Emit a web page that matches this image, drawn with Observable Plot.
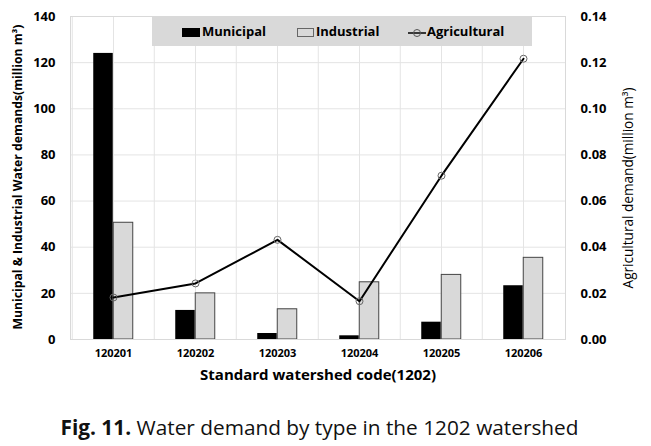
<!DOCTYPE html>
<html>
<head>
<meta charset="utf-8">
<script src="https://cdn.jsdelivr.net/npm/d3@7"></script>
<script src="https://cdn.jsdelivr.net/npm/@observablehq/plot@0.6"></script>
<style>
  body { margin: 0; background: #fff; font-family: "Open Sans", "Noto Sans", sans-serif; }
  #wrap { position: relative; width: 651px; height: 446px; overflow: hidden; }
  #legend { position: absolute; left: 152px; top: 16px; width: 380px; height: 30px; background: #d9d9d9;
            font-weight: bold; font-size: 13px; color: #000; }
  .li { position: absolute; top: 0; height: 30px; line-height: 30px; white-space: nowrap; }
  .sw { display: inline-block; vertical-align: middle; box-sizing: border-box; }
  #caption { position: absolute; left: -6px; width: 651px; top: 415px; text-align: center; font-size: 20.8px;
             line-height: 24px; color: #111; white-space: nowrap;
             font-family: "Open Sans", "Noto Sans", sans-serif; }
</style>
</head>
<body>
<div id="wrap">
  <div id="chart"></div>
  <div id="legend"></div>
  <div id="caption"><b>Fig. 11.</b> Water demand by type in the 1202 watershed</div>
</div>
<script>
const codes = ["120201", "120202", "120203", "120204", "120205", "120206"];
const municipal = [124, 12.6, 2.6, 1.6, 7.5, 23.3];
const industrial = [50.6, 20, 13.1, 24.8, 28.0, 35.4];
const agricultural = [0.0182, 0.0243, 0.0432, 0.0166, 0.0710, 0.1217];
const leftTicks = [0, 20, 40, 60, 80, 100, 120, 140];
const rightTicks = [0, 0.02, 0.04, 0.06, 0.08, 0.10, 0.12, 0.14];
const seriesNames = ["Municipal", "Industrial", "Agricultural"];
const leftTitle = "Municipal & Industrial Water demands(million m³)";
const rightTitle = "Agricultural demand(million m³)";
const xTitle = "Standard watershed code(1202)";

// right axis ratio: 0.14 ↔ 140
const ratio = leftTicks[leftTicks.length - 1] / rightTicks[rightTicks.length - 1];
const rows = codes.map((c, i) => ({code: c, muni: municipal[i], ind: industrial[i], agri: agricultural[i] * ratio}));

const W = 651, H = 400;
const mL = 70, mR = 86, mT = 16, mB = 61;
const band = (W - mL - mR) / codes.length;
const barW = 20;

const font = "'Open Sans', 'Noto Sans', sans-serif";

const chart = Plot.plot({
  width: W, height: H,
  marginLeft: mL, marginRight: mR, marginTop: mT, marginBottom: mB,
  style: {fontFamily: font, background: "#fff", color: "#000", overflow: "visible"},
  x: {type: "band", domain: codes, padding: 0},
  y: {domain: [0, 140]},
  marks: [
    Plot.gridY(leftTicks, {stroke: "#e4e4e4", strokeOpacity: 1}),
    Plot.ruleX(codes, {x: d => d, stroke: "#e4e4e4"}),
    Plot.ruleX(codes, {x: d => d, dx: -band / 2, stroke: "#e4e4e4"}),
    Plot.frame({stroke: "#d9d9d9"}),
    Plot.barY(rows, {x: "code", y: "muni", fill: "#000",
      insetLeft: band / 2 - barW, insetRight: band / 2}),
    Plot.barY(rows, {x: "code", y: "ind", fill: "#d9d9d9", stroke: "#444", strokeWidth: 1,
      insetLeft: band / 2, insetRight: band / 2 - barW}),
    Plot.ruleY([0], {stroke: "#d9d9d9"}),
    Plot.line(rows, {x: "code", y: "agri", stroke: "#000", strokeWidth: 2}),
    Plot.dot(rows, {x: "code", y: "agri", r: 3.5, stroke: "#666", strokeWidth: 1, fill: "none"}),
    Plot.axisY(leftTicks, {anchor: "left", tickSize: 0, tickPadding: 15, fontSize: 13, fontWeight: "bold", label: null}),
    Plot.axisY(leftTicks, {anchor: "right", tickSize: 0, tickPadding: 15, fontSize: 13, fontWeight: "bold", label: null,
      tickFormat: d => (d / ratio).toFixed(2)}),
    Plot.axisX({tickSize: 0, tickPadding: 10, fontSize: 11, fontWeight: "bold", label: null}),
    Plot.text([leftTitle], {frameAnchor: "left", textAnchor: "middle", rotate: -90, dx: -52, dy: -1,
      fontSize: 12.2, fontWeight: "bold", fill: "#000"}),
    Plot.text([rightTitle], {frameAnchor: "right", textAnchor: "middle", rotate: -90, dx: 63, dy: 10,
      fontSize: 13.6, fill: "#000"}),
    Plot.text([xTitle], {frameAnchor: "bottom", textAnchor: "middle", dy: 40, fontSize: 15, fontWeight: "bold", fill: "#000"})
  ]
});
document.getElementById("chart").appendChild(chart);

// legend
const legend = document.getElementById("legend");
const items = [
  {name: seriesNames[0], left: 30, sw: '<span class="sw" style="width:18px;height:9px;background:#000;margin-right:2px"></span>'},
  {name: seriesNames[1], left: 145, sw: '<span class="sw" style="width:17px;height:9px;background:#d9d9d9;border:1px solid #666;margin-right:2px"></span>'},
  {name: seriesNames[2], left: 256, sw: '<svg class="sw" width="18" height="10" style="margin-right:1px"><line x1="0" y1="5" x2="18" y2="5" stroke="#000" stroke-width="1.5"/><circle cx="9" cy="5" r="3.5" fill="none" stroke="#555" stroke-width="1"/></svg>'}
];
items.forEach(it => {
  const d = document.createElement("div");
  d.className = "li";
  d.style.left = it.left + "px";
  d.innerHTML = it.sw + it.name;
  legend.appendChild(d);
});
</script>
</body>
</html>
